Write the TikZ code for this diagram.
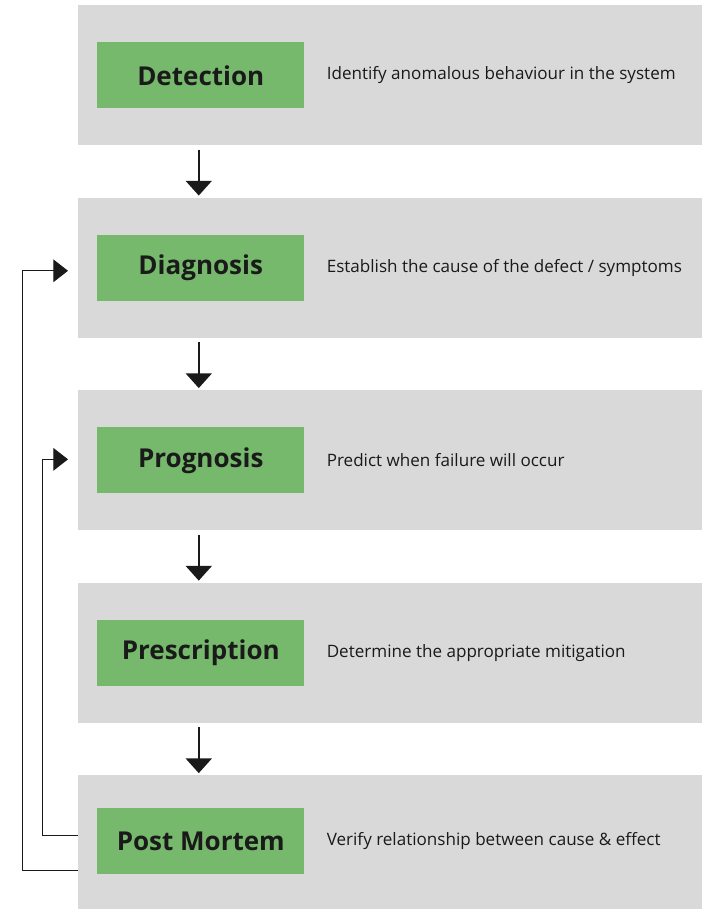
\documentclass[tikz,border=0pt]{standalone}
\usepackage{fontspec}
\setmainfont{Open Sans}
\usetikzlibrary{arrows.meta,positioning,calc}
\definecolor{pmGrey}{HTML}{D9D9D9}
\definecolor{pmGreen}{HTML}{76B96C}
\definecolor{pmInk}{HTML}{1A1A1A}

\begin{document}
\begin{tikzpicture}[font=\fontsize{12.8}{15}\selectfont,node distance=39pt]
    \tikzset{panel/.style={fill=pmGrey,minimum width=468pt,minimum height=105pt,inner sep=0pt},
      stage/.style={fill=pmGreen,minimum width=155.25pt,minimum height=49.5pt,inner sep=0pt,text=pmInk,font=\bfseries\fontsize{19.5}{22}\selectfont},
      what/.style={text=pmInk,inner sep=0pt},
      flow/.style={-{Triangle[width=19.5pt,length=11pt]},line width=1.1pt,pmInk},
      back/.style={-{Triangle[width=17pt,length=11pt]},line width=0.75pt,pmInk}}
    \useasboundingbox (0,0) rectangle (526.5pt,-681.75pt);
    \node[panel,anchor=north west] (p1) at (58.5pt,-3.75pt) {};
    \node[panel,below=of p1] (p2) {};
    \node[panel,below=of p2] (p3) {};
    \node[panel,below=of p3] (p4) {};
    \node[panel,below=of p4,minimum height=102pt] (p5) {};
    \node[stage,anchor=west] (det) at ([xshift=14.25pt]p1.west) {Detection};
    \node[stage,anchor=west] (dia) at ([xshift=14.25pt]p2.west) {Diagnosis};
    \node[stage,anchor=west] (pro) at ([xshift=14.25pt]p3.west) {Prognosis};
    \node[stage,anchor=west] (pre) at ([xshift=14.25pt]p4.west) {Prescription};
    \node[stage,anchor=west] (pm) at ([xshift=14.25pt,yshift=1.5pt]p5.west) {Post Mortem};
    \node[what,right=16.5pt of det] (detTxt) {Identify anomalous behaviour in the system};
    \node[what,right=16.5pt of dia] (diaTxt) {Establish the cause of the defect / symptoms};
    \node[what,right=16.5pt of pro] (proTxt) {Predict when failure will occur};
    \node[what,right=16.5pt of pre] (preTxt) {Determine the appropriate mitigation};
    \node[what,right=16.5pt of pm] (pmTxt) {Verify relationship between cause \& effect};
    % main chain
    \draw[flow] ([xshift=-1.5pt,yshift=-3pt]p1.south -| det) -- ([xshift=-1.5pt,yshift=1.5pt]p2.north -| det);
    \draw[flow] ([xshift=-1.5pt,yshift=-3pt]p2.south -| dia) -- ([xshift=-1.5pt,yshift=1.5pt]p3.north -| dia);
    \draw[flow] ([xshift=-1.5pt,yshift=-3pt]p3.south -| pro) -- ([xshift=-1.5pt,yshift=1.5pt]p4.north -| pro);
    \draw[flow] ([xshift=-1.5pt,yshift=-3pt]p4.south -| pre) -- ([xshift=-1.5pt,yshift=1.5pt]p5.north -| pre);
    % feedback loops
    \coordinate (fbOut) at ([yshift=-20.25pt]p5.west);
    \coordinate (fbIn) at ([yshift=6pt]p5.west);
    \draw[back] (fbOut) -- ++(-41.5pt,0) |- ([xshift=-7.5pt,yshift=-2.25pt]p2.west);
    \draw[back] (fbIn) -- ++(-27pt,0) |- ([xshift=-7.5pt,yshift=0.75pt]p3.west);
  \end{tikzpicture}
\end{document}
